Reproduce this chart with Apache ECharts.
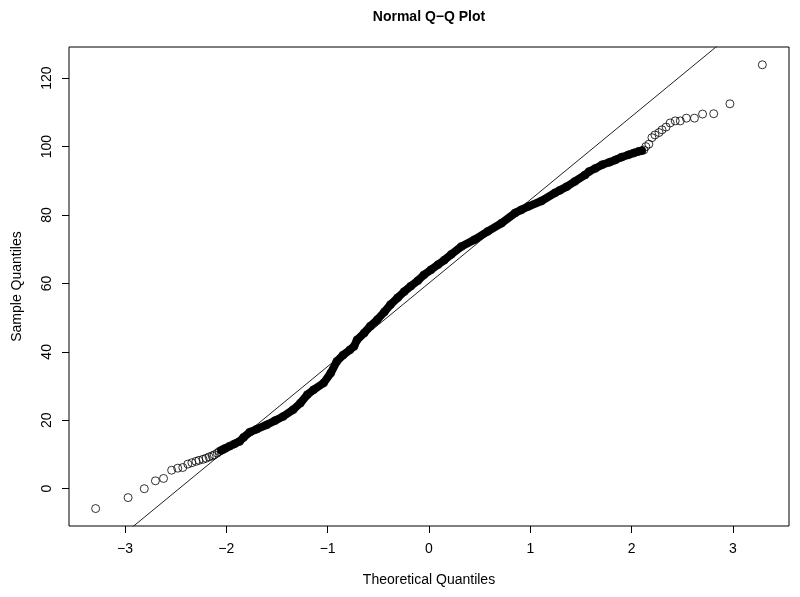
<!DOCTYPE html>
<html>
<head>
<meta charset="utf-8">
<script src="https://cdn.jsdelivr.net/npm/echarts@6/dist/echarts.min.js"></script>
<style>
html,body{margin:0;padding:0;background:#fff;}
#chart{width:800px;height:597px;}
</style>
</head>
<body>
<div id="chart"></div>
<script>
// Theoretical quantiles (x) and sample quantiles (y)
const theoQ = [
  -3.29,-2.97,-2.81,-2.70,-2.62,-2.54,-2.48,-2.43,-2.38,-2.34,-2.30,-2.27,-2.23,-2.20,-2.17,-2.14,-2.12,-2.09,-2.07,-2.05,-2.03,-2.01,
  -1.97,-1.92,-1.87,-1.83,-1.77,-1.70,-1.60,-1.52,-1.44,-1.34,-1.27,-1.20,-1.14,-1.04,-0.97,-0.91,-0.85,-0.78,-0.74,-0.71,-0.64,-0.58,
  -0.51,-0.44,-0.38,-0.31,-0.245,-0.18,-0.11,-0.05,0.02,0.09,0.15,0.22,0.32,0.45,0.58,0.715,0.85,0.91,0.98,1.11,1.245,1.29,1.36,1.44,
  1.54,1.58,1.64,1.71,1.78,1.84,1.90,1.97,2.02,2.07,2.10,
  2.12,2.14,2.17,2.20,2.23,2.27,2.30,2.34,2.38,2.43,2.48,2.54,2.62,2.70,2.81,2.97,3.29
];
const sampleQ = [
  -5.8,-2.6,0.0,2.3,3.0,5.4,6.0,6.2,7.2,7.6,8.0,8.3,8.6,8.9,9.3,9.6,9.9,10.4,10.9,11.2,11.5,11.8,
  12.4,13.1,13.8,15.0,16.5,17.4,18.7,19.9,21.1,23.1,25.0,27.5,28.9,30.9,33.8,37.2,39.0,40.6,41.6,43.5,45.5,47.5,
  49.4,51.7,53.8,55.8,57.6,59.2,60.8,62.5,64.0,65.5,66.8,68.5,70.8,72.8,75.2,77.6,80.6,81.5,82.5,84.1,86.5,87.2,88.3,89.8,
  91.7,92.7,93.6,94.7,95.4,96.1,96.9,97.6,98.1,98.6,98.8,
  99.0,100.0,100.7,102.6,103.4,104.1,104.9,105.7,106.9,107.5,107.5,108.3,108.3,109.5,109.6,112.5,123.9
];
// Range of the dense (overplotted) part of the sample
const denseFrom = -2.05, denseTo = 2.10;
// Reference line (qqline)
const lineIntercept = 60.1, lineSlope = 24.36;
const xTicks = [-3,-2,-1,0,1,2,3];
const yTicks = [0,20,40,60,80,100,120];
const xRange = [-3.553, 3.553];
const yRange = [-10.9, 129.1];

const pts = theoQ.map((x,i)=>[x, sampleQ[i]]);
const dense = pts.filter(p=>p[0]>=denseFrom && p[0]<=denseTo);
const refLine = [-5,5].map(x=>[x, lineIntercept + lineSlope*x]);
const fmt = v => v < 0 ? '\u2212' + Math.abs(v) : String(v);
const FONT = '"Liberation Sans", Arial, Helvetica, sans-serif';

const chart = echarts.init(document.getElementById('chart'), null, {renderer:'canvas'});
chart.setOption({
  animation:false,
  backgroundColor:'#fff',
  textStyle:{fontFamily:FONT},
  graphic:[{
    type:'text', x:429, y:17,
    style:{text:'Normal Q\u2212Q Plot', font:'bold 14px ' + FONT, fill:'#000', textAlign:'center', textVerticalAlign:'middle'}
  }],
  grid:{left:69, right:11, top:47, bottom:71, show:true, borderColor:'#000', borderWidth:1, backgroundColor:'transparent'},
  xAxis:{
    type:'value', min:xRange[0], max:xRange[1],
    name:'Theoretical Quantiles', nameLocation:'middle', nameGap:47,
    nameTextStyle:{fontSize:14, color:'#000', fontFamily:FONT},
    axisLine:{show:false, onZero:false},
    splitLine:{show:false},
    axisTick:{show:true, inside:false, length:7, lineStyle:{color:'#000', width:1}, customValues:xTicks},
    axisLabel:{show:true, margin:16, fontSize:14, color:'#000', fontFamily:FONT, formatter:fmt, customValues:xTicks}
  },
  yAxis:{
    type:'value', min:yRange[0], max:yRange[1],
    name:'Sample Quantiles', nameLocation:'middle', nameGap:45, nameRotate:90,
    nameTextStyle:{fontSize:14, color:'#000', fontFamily:FONT},
    axisLine:{show:false, onZero:false},
    splitLine:{show:false},
    axisTick:{show:true, inside:false, length:7, lineStyle:{color:'#000', width:1}, customValues:yTicks},
    axisLabel:{show:true, rotate:90, margin:15, fontSize:14, color:'#000', fontFamily:FONT, formatter:fmt, customValues:yTicks}
  },
  series:[
    {
      type:'line', data:refLine, symbol:'none', silent:true, clip:true,
      lineStyle:{color:'#222', width:1}, z:1
    },
    {
      type:'line', data:dense, symbol:'none', silent:true, clip:true,
      lineStyle:{color:'#000', width:8, cap:'round', join:'round'}, z:2
    },
    {
      type:'scatter', data:pts, symbol:'circle', symbolSize:8, silent:true,
      itemStyle:{color:'rgba(0,0,0,0)', borderColor:'#000', borderWidth:1}, z:3
    }
  ]
});
</script>
</body>
</html>
